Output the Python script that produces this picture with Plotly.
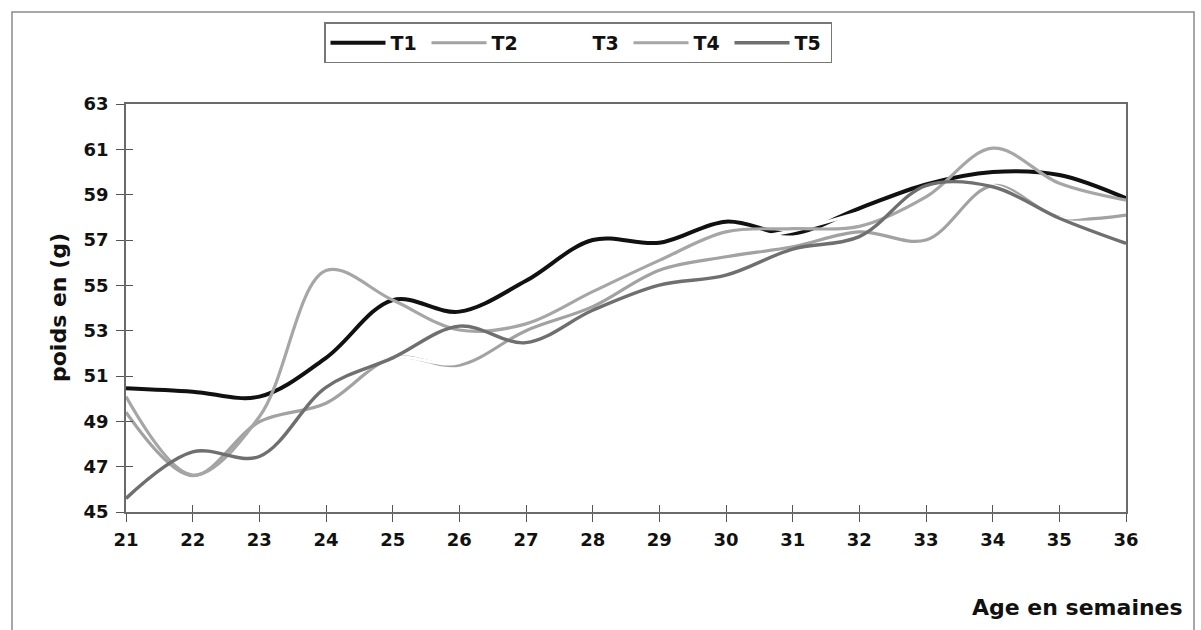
import plotly.graph_objects as go

# Age (weeks) and mean egg weight (g) per treatment
weeks = list(range(21, 37))
t1 = [50.46, 50.31, 50.09, 51.8, 54.35, 53.84, 55.2, 57.0, 56.88, 57.81, 57.29, 58.4, 59.45, 60.0, 59.87, 58.84]
t2 = [49.4, 46.6, 48.98, 49.8, 51.8, 51.48, 53.0, 54.06, 55.67, 56.26, 56.7, 57.36, 57.0, 59.4, 58.0, 58.1]
t3 = [49.9, 47.1, 49.5, 50.3, 51.8, 51.6, 53.8, 54.8, 56.3, 56.9, 57.4, 58.2, 58.9, 59.4, 58.0, 58.5]
t4 = [50.09, 46.63, 49.2, 55.65, 54.35, 53.03, 53.3, 54.72, 56.1, 57.36, 57.5, 57.6, 58.9, 61.05, 59.5, 58.76]
t5 = [45.6, 47.65, 47.45, 50.5, 51.8, 53.2, 52.47, 53.9, 55.01, 55.45, 56.6, 57.15, 59.4, 59.35, 57.96, 56.85]

series = [
    ("T1", t1, "#111111", 4.0),
    ("T2", t2, "#a2a2a2", 3.2),
    ("T3", t3, "#ffffff", 3.2),
    ("T4", t4, "#a6a6a6", 3.2),
    ("T5", t5, "#6f6f6f", 3.4),
]

y_ticks = list(range(45, 64, 2))

FONT = "DejaVu Sans, Liberation Sans, Arial, sans-serif"
TXT = "#111111"

fig = go.Figure()
for name, vals, color, width in series:
    fig.add_trace(go.Scatter(
        x=weeks, y=vals, name=name, mode="lines",
        line=dict(color=color, width=width, shape="spline", smoothing=1.0),
        hoverinfo="x+y+name",
    ))

# transparent helper so the overlay axes (inner tick halves) get drawn
fig.add_trace(go.Scatter(x=[21], y=[45], xaxis="x2", yaxis="y2", mode="markers",
                         marker=dict(size=1, opacity=0), showlegend=False,
                         hoverinfo="skip"))

axis_common = dict(
    showgrid=False, zeroline=False, showline=True, mirror=True,
    linecolor="#6a6a6a", linewidth=1.6,
    ticks="outside", ticklen=8, tickwidth=1.2, tickcolor="#555555",
    tickfont=dict(family=FONT, size=18, color=TXT, weight="bold"),
)
inner_ticks = dict(ticks="inside", ticklen=7, tickwidth=1.2, tickcolor="#555555",
                   showticklabels=False, showgrid=False, zeroline=False,
                   showline=False)

fig.update_layout(
    width=1201, height=630,
    margin=dict(l=126, r=75, t=104, b=118),
    paper_bgcolor="white", plot_bgcolor="white",
    showlegend=True,
    legend=dict(
        orientation="h", x=0.198, y=1.2, xanchor="left", yanchor="top",
        bordercolor="#777777", borderwidth=1.5, bgcolor="white",
        font=dict(family=FONT, size=19, color=TXT, weight="bold"),
        itemwidth=55, entrywidth=31, entrywidthmode="pixels",
        itemclick=False, itemdoubleclick=False, tracegroupgap=0,
    ),
    xaxis=dict(range=[21, 36], tickvals=weeks, ticklabelstandoff=3, **axis_common),
    yaxis=dict(range=[45, 63], tickvals=y_ticks, ticklabelstandoff=4, **axis_common),
    xaxis2=dict(overlaying="x", range=[21, 36], tickvals=weeks, side="bottom",
                anchor="y2", **inner_ticks),
    yaxis2=dict(overlaying="y", range=[45, 63], tickvals=y_ticks, side="left",
                anchor="x2", **inner_ticks),
    annotations=[
        dict(text="poids en (g)", xref="paper", yref="paper", x=-0.068, y=0.5,
             textangle=-90, showarrow=False, xanchor="center", yanchor="middle",
             font=dict(family=FONT, size=22, color=TXT, weight="bold")),
        dict(text="Age en semaines", xref="paper", yref="paper", x=1.059, y=-0.233,
             showarrow=False, xanchor="right", yanchor="middle",
             font=dict(family=FONT, size=22, color=TXT, weight="bold")),
    ],
    shapes=[
        # outer chart frame
        dict(type="rect", xref="paper", yref="paper", x0=-0.114, x1=1.068,
             y0=-0.35, y1=1.2255, line=dict(color="#8a8a8a", width=1.5),
             fillcolor="rgba(0,0,0,0)", layer="below"),
    ],
)

fig.write_html("out.html")
